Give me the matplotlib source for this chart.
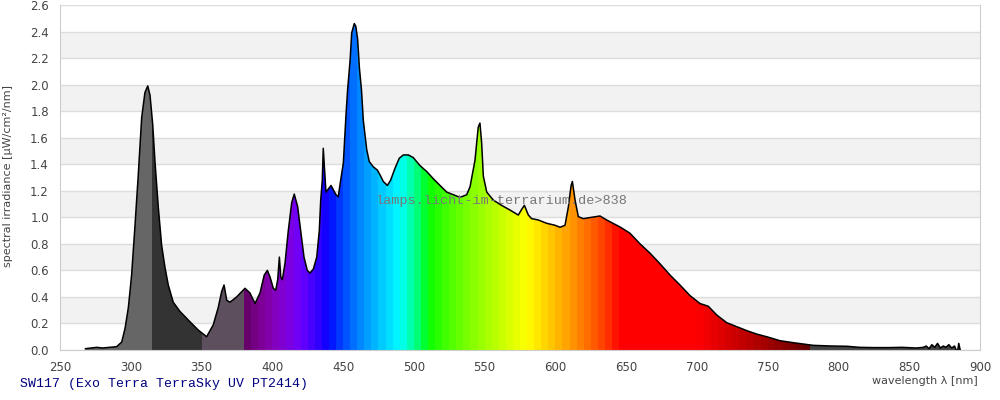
import matplotlib
matplotlib.use("Agg")
import matplotlib.pyplot as plt
from matplotlib.patches import Polygon
import numpy as np

# spectrum (wavelength in nm, irradiance in uW/cm2/nm)
wavelength = [268, 272, 276, 280, 285, 290, 293.6, 296, 298.3, 300.6, 303, 305.3, 307.7, 310, 312,
              313.6, 315.5, 317.1, 319.5, 321.8, 324.2, 326.5, 330, 334.8, 341.8, 347.7, 353.6,
              358.3, 361.8, 364.2, 365.9, 367.8, 370.1, 374.8, 380.7, 384.2, 387.8, 391.3, 394.3,
              396.5, 398.4, 400.7, 402.4, 403.8, 405, 406, 407.1, 409, 411.3, 413.7, 415.5, 417.9,
              420, 422.4, 424.7, 426.6, 429, 431.4, 433.2, 434.2, 435.3, 436, 437.9, 441.5, 445,
              446.6, 448.3, 450.2, 452.1, 453.2, 455, 456.1, 457.9, 459, 460.3, 461.5, 463, 464.3,
              466.7, 468.5, 471.4, 474.2, 476.1, 478.4, 481.3, 483.6, 486.7, 489.7, 492.6, 496.1,
              499.6, 504.3, 509.1, 513.8, 518.5, 523.2, 527.9, 532.6, 537.3, 539.7, 543.2, 545.5,
              546.7, 547.9, 549.1, 551.5, 556.1, 562, 567.9, 573.8, 576.2, 578.1, 580.9, 583.2,
              587.9, 593.8, 599.7, 603.3, 606.8, 609.2, 611.1, 612, 613.9, 616.2, 619.7, 625.6,
              631.5, 636.2, 643.3, 646, 652.7, 659.8, 666.8, 673.9, 681, 688, 695.1, 702.2, 708,
              714, 721, 728.1, 735.2, 742.2, 749.3, 758.7, 768.1, 775.2, 782.2, 795, 806, 815, 825,
              835, 845, 855, 860, 862, 864, 866, 868, 870, 872, 874, 876, 878, 880, 882, 884, 885, 886]
irradiance = [0.01, 0.015, 0.02, 0.015, 0.02, 0.025, 0.06, 0.165, 0.32, 0.565, 0.94, 1.32, 1.75, 1.94, 1.99,
              1.92, 1.70, 1.42, 1.07, 0.79, 0.62, 0.49, 0.36, 0.29, 0.213, 0.15, 0.10,
              0.19, 0.32, 0.44, 0.49, 0.375, 0.36, 0.40, 0.465, 0.43, 0.35, 0.43, 0.565,
              0.60, 0.55, 0.465, 0.45, 0.53, 0.70, 0.55, 0.53, 0.655, 0.90, 1.11, 1.175, 1.08,
              0.90, 0.70, 0.60, 0.58, 0.61, 0.70, 0.90, 1.13, 1.28, 1.52, 1.19, 1.24, 1.17,
              1.155, 1.28, 1.41, 1.78, 1.96, 2.19, 2.39, 2.46, 2.44, 2.34, 2.13, 1.96, 1.73,
              1.51, 1.42, 1.38, 1.356, 1.32, 1.27, 1.24, 1.28, 1.37, 1.445, 1.47, 1.47,
              1.45, 1.39, 1.345, 1.29, 1.24, 1.19, 1.17, 1.15, 1.17, 1.23, 1.43, 1.68,
              1.71, 1.56, 1.31, 1.19, 1.13, 1.09, 1.055, 1.017, 1.06, 1.09, 1.017, 0.99,
              0.98, 0.955, 0.94, 0.925, 0.94, 1.08, 1.24, 1.27, 1.13, 1.005, 0.99, 1.00,
              1.01, 0.98, 0.94, 0.925, 0.88, 0.80, 0.73, 0.65, 0.565, 0.49, 0.41, 0.35, 0.33,
              0.264, 0.206, 0.176, 0.146, 0.12, 0.10, 0.07, 0.055, 0.045, 0.035, 0.03, 0.028, 0.02, 0.018,
              0.018, 0.02, 0.015, 0.02, 0.03, 0.01, 0.04, 0.02, 0.05, 0.015, 0.03, 0.02, 0.04, 0.015, 0.03, -0.02, 0.05, 0.0]

x_ticks = [250, 300, 350, 400, 450, 500, 550, 600, 650, 700, 750, 800, 850, 900]
y_ticks = [0.0, 0.2, 0.4, 0.6, 0.8, 1.0, 1.2, 1.4, 1.6, 1.8, 2.0, 2.2, 2.4, 2.6]

title = "SW117 (Exo Terra TerraSky UV PT2414)"
watermark = "lamps.licht-im-terrarium.de>838"


def band_color(wl):
    # grey tones for UV / IR, Bruton style rainbow in between
    if wl < 315:
        return (0x66 / 255, 0x66 / 255, 0x66 / 255)
    if wl < 348:
        return (0x33 / 255, 0x33 / 255, 0x33 / 255)
    if wl < 380:
        return (0x5e / 255, 0x4f / 255, 0x5e / 255)
    if wl >= 781:
        return (0x44 / 255, 0x44 / 255, 0x44 / 255)
    if wl < 440:
        r, g, b = -(wl - 440) / 60, 0.0, 1.0
    elif wl < 490:
        r, g, b = 0.0, (wl - 440) / 50, 1.0
    elif wl < 510:
        r, g, b = 0.0, 1.0, -(wl - 510) / 20
    elif wl < 580:
        r, g, b = (wl - 510) / 70, 1.0, 0.0
    elif wl < 645:
        r, g, b = 1.0, -(wl - 645) / 65, 0.0
    else:
        r, g, b = 1.0, 0.0, 0.0
    if wl < 420:
        f = 0.3 + 0.7 * (wl - 380) / 40
    elif wl > 700:
        f = 0.3 + 0.7 * (780 - wl) / 80
    else:
        f = 1.0
    return tuple((c * f) ** 0.8 if c > 0 else 0.0 for c in (r, g, b))


fig = plt.figure(figsize=(10, 4), dpi=100)
ax = fig.add_axes([0.06, 0.125, 0.92, 0.8625])

# alternating background bands + grid
for i in range(len(y_ticks) - 1):
    if i % 2 == 1:
        ax.axhspan(y_ticks[i], y_ticks[i + 1], color="#f2f2f2", zorder=0, lw=0)
for yv in y_ticks:
    ax.axhline(yv, color="#dddddd", lw=1, zorder=1)

# colour bands clipped to the spectrum outline
cols = []
for nm in range(250, 900):
    start = (nm // 5) * 5
    cols.append(band_color(start + 2.5))
cols = np.array(cols)[np.newaxis, :, :]
im = ax.imshow(cols, extent=[250, 900, -0.05, 2.6], aspect="auto",
               interpolation="nearest", zorder=2, origin="lower")
verts = [(wavelength[0], 0)] + list(zip(wavelength, irradiance)) + [(wavelength[-1], 0)]
outline = Polygon(verts, closed=True, facecolor="none", edgecolor="none")
ax.add_patch(outline)
im.set_clip_path(outline)

ax.plot(wavelength, irradiance, color="black", lw=1.1, zorder=3)

ax.text(561.5, 1.12, watermark, family="Liberation Mono", fontsize=9.7,
        color="#777777", ha="center", va="center", zorder=4)

ax.set_xlim(250, 900)
ax.set_ylim(0, 2.6)
ax.set_xticks(x_ticks)
ax.set_yticks(y_ticks)
ax.set_yticklabels(["%.1f" % v for v in y_ticks])
ax.tick_params(length=0, labelsize=8.5, labelcolor="#444444")
ax.tick_params(axis="x", pad=8)
ax.tick_params(axis="y", pad=8)
for s in ax.spines.values():
    s.set_color("#cccccc")
ax.spines["top"].set_visible(False)

fig.text(0.008, 0.56, "spectral irradiance [\u00b5W/cm\u00b2/nm]", rotation=90,
         fontsize=8, color="#444444", ha="center", va="center")
fig.text(0.978, 0.047, "wavelength \u03bb [nm]", fontsize=8, color="#444444",
         ha="right", va="center")
fig.text(0.02, 0.04, title, family="Liberation Mono", fontsize=9.5,
         color="#000080", ha="left", va="center")

fig.savefig("out.png", dpi=100)
